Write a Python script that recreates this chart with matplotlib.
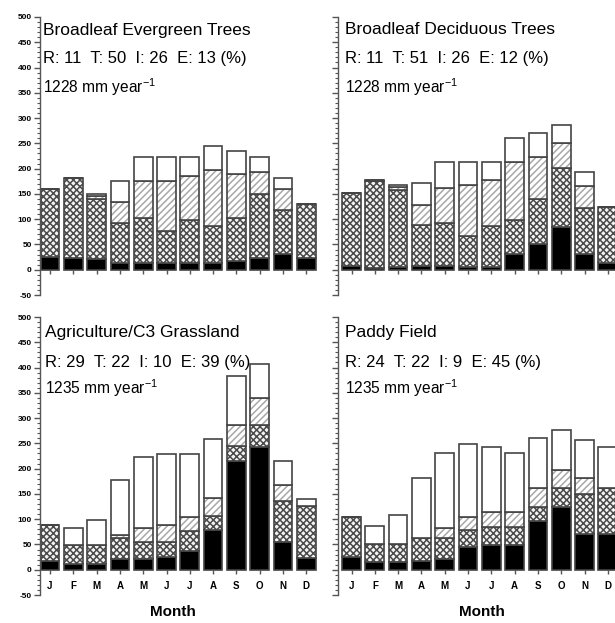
import matplotlib
matplotlib.use("Agg")
import matplotlib.pyplot as plt
import numpy as np
from matplotlib.ticker import MultipleLocator

plt.rcParams['font.family'] = ['Liberation Sans', 'DejaVu Sans']
plt.rcParams['mathtext.default'] = 'regular'
plt.rcParams['hatch.linewidth'] = 1.1

months = ["J", "F", "M", "A", "M", "J", "J", "A", "S", "O", "N", "D"]

# monthly components (mm): R, T, I, E
bet_R  = [26, 23, 21, 13, 13, 13, 13, 13, 18, 24, 31, 24]
bet_T  = [134, 158, 119, 79, 89, 63, 85, 73, 84, 126, 88, 107]
bet_I  = [0, 0, 6, 42, 73, 100, 87, 112, 87, 43, 41, 0]
bet_E  = [0, 0, 4, 42, 49, 48, 38, 46, 45, 31, 21, 0]

bdt_R  = [8, 3, 5, 7, 7, 5, 5, 31, 51, 84, 31, 13]
bdt_T  = [144, 172, 153, 81, 85, 61, 81, 67, 88, 117, 91, 111]
bdt_I  = [0, 3, 6, 41, 70, 101, 91, 115, 85, 50, 44, 0]
bdt_E  = [0, 0, 3, 43, 51, 46, 36, 48, 46, 36, 27, 0]

agr_R  = [18, 11, 11, 21, 21, 26, 37, 79, 215, 242, 54, 23]
agr_T  = [70, 38, 38, 41, 34, 29, 40, 28, 29, 44, 81, 104]
agr_I  = [0, 0, 0, 6, 28, 33, 27, 34, 42, 54, 32, 0]
agr_E  = [0, 34, 50, 109, 140, 141, 125, 118, 98, 67, 49, 13]

pad_R  = [26, 16, 16, 18, 21, 44, 49, 49, 96, 125, 70, 70]
pad_T  = [78, 35, 35, 44, 41, 34, 36, 36, 28, 36, 80, 91]
pad_I  = [0, 0, 0, 0, 21, 26, 29, 29, 37, 36, 32, 0]
pad_E  = [0, 36, 58, 120, 147, 145, 129, 116, 99, 80, 75, 82]

panels = [
    ("Broadleaf Evergreen Trees", "R: 11  T: 50  I: 26  E: 13 (%)", "1228 mm year$^{-1}$",
     bet_R, bet_T, bet_I, bet_E),
    ("Broadleaf Deciduous Trees", "R: 11  T: 51  I: 26  E: 12 (%)", "1228 mm year$^{-1}$",
     bdt_R, bdt_T, bdt_I, bdt_E),
    ("Agriculture/C3 Grassland", "R: 29  T: 22  I: 10  E: 39 (%)", "1235 mm year$^{-1}$",
     agr_R, agr_T, agr_I, agr_E),
    ("Paddy Field", "R: 24  T: 22  I: 9  E: 45 (%)", "1235 mm year$^{-1}$",
     pad_R, pad_T, pad_I, pad_E),
]

W, H = 615, 623
fig = plt.figure(figsize=(W / 100, H / 100), dpi=100)

def fx(px):
    return px / W

def fy(py):
    return 1 - py / H

step = 23.3
layout = [
    (40, -0.43, 17, 295, 43, (30, 59, 87), False),
    (338, -0.58, 17, 295, 345, (30, 59, 87), False),
    (40, -0.43, 317, 595, 45, (333, 362, 388), True),
    (338, -0.58, 317, 595, 345, (333, 362, 388), True),
]

x = np.arange(12)
for (title, pct, tot, R, T, I, E), (lpx, xl, top, bot, tx, tys, bottom) in zip(panels, layout):
    xr = 11.6
    wpx = (xr - xl) * step
    ax = fig.add_axes([fx(lpx), fy(bot), wpx / W, (bot - top) / H])
    ax.set_xlim(xl, xr)
    ax.set_ylim(-50, 500)
    R = np.array(R); T = np.array(T); I = np.array(I); E = np.array(E)
    bw = 0.8
    ec = '#444444'
    ax.bar(x, R, bw, color='black', edgecolor=ec, linewidth=1.2)
    ax.bar(x, T, bw, bottom=R, color='#f4f4f4', edgecolor='#4a4a4a', hatch='xxxxx', linewidth=0)
    ax.bar(x, T, bw, bottom=R, fill=False, edgecolor=ec, linewidth=1.2)
    ax.bar(x, I, bw, bottom=R + T, color='white', edgecolor='#a8a8a8', hatch='/////', linewidth=0)
    ax.bar(x, I, bw, bottom=R + T, fill=False, edgecolor=ec, linewidth=1.2)
    ax.bar(x, E, bw, bottom=R + T + I, color='white', edgecolor=ec, linewidth=1.2)

    for s in ['top', 'right']:
        ax.spines[s].set_visible(False)
    ax.spines['bottom'].set_position(('data', 0))
    ax.spines['bottom'].set_visible(False)
    ax.spines['left'].set_color('#555555')
    ax.spines['left'].set_linewidth(1.0)
    ax.yaxis.set_major_locator(MultipleLocator(50))
    ax.yaxis.set_minor_locator(MultipleLocator(10))
    ax.tick_params(axis='y', which='major', length=4, width=1.0, color='#555555',
                   labelsize=6, pad=2)
    ax.tick_params(axis='y', which='minor', length=2, width=0.8, color='#555555')
    ax.set_yticks(np.arange(-50, 501, 50))
    if lpx < 100:
        ax.set_yticklabels([str(v) for v in range(-50, 501, 50)], fontweight='bold')
    else:
        ax.set_yticklabels([])
    ax.set_xticks(x)
    ax.tick_params(axis='x', length=3, width=1.0, color='#555555', labelsize=7, pad=5)
    if bottom:
        ax.set_xticklabels(months, fontweight='bold')
    else:
        ax.set_xticklabels([])

    fig.text(fx(tx), fy(tys[0]), title, fontsize=12.5, va='center', ha='left')
    fig.text(fx(tx), fy(tys[1]), pct, fontsize=12, va='center', ha='left')
    fig.text(fx(tx), fy(tys[2]), tot, fontsize=11.2, va='center', ha='left')

fig.text(fx(173), fy(612), "Month", fontsize=11, ha='center', va='center', fontweight='bold')
fig.text(fx(482), fy(612), "Month", fontsize=11, ha='center', va='center', fontweight='bold')

fig.savefig("out.png", dpi=100)
